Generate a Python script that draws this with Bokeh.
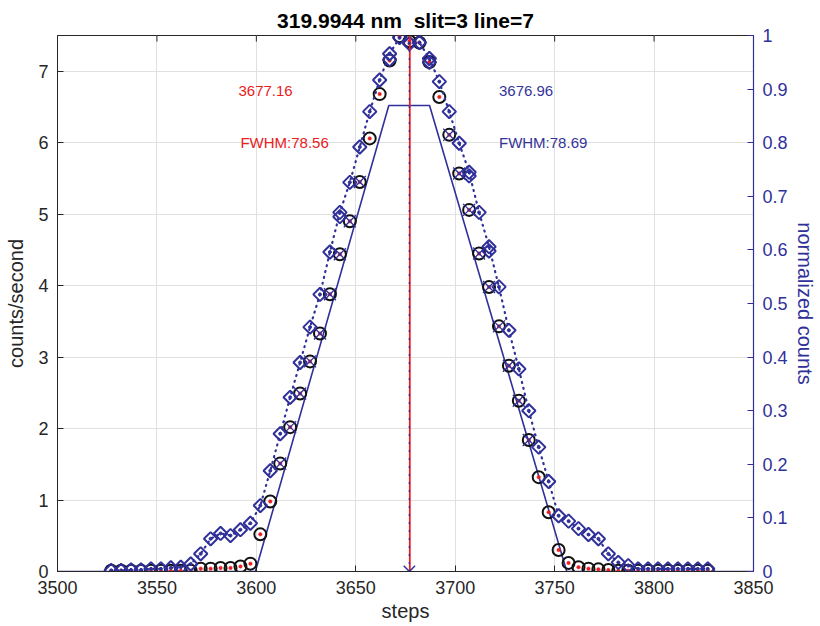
from bokeh.plotting import figure
from bokeh.models import Range1d, LinearAxis, FixedTicker, CustomJSTickFormatter, ColumnDataSource
from bokeh.core.properties import value
from bokeh.embed import file_html
from bokeh.resources import INLINE

# ---------------- data ----------------
steps = [3527, 3532, 3537, 3542, 3547, 3552, 3557, 3562, 3567, 3572,
         3577, 3582, 3587, 3592, 3597, 3602, 3607, 3612, 3617, 3622,
         3627, 3632, 3637, 3642, 3647, 3652, 3657, 3662, 3667, 3672,
         3677, 3682, 3687, 3692, 3697, 3702, 3707, 3712, 3717, 3722,
         3727, 3732, 3737, 3742, 3747, 3752, 3757, 3762, 3767, 3772,
         3777, 3782, 3787, 3792, 3797, 3802, 3807, 3812, 3817, 3822,
         3827]

counts = [0.01, 0.01, 0.01, 0.01, 0.01, 0.01, 0.01, 0.01, 0.01, 0.04,
          0.04, 0.05, 0.05, 0.07, 0.11, 0.52, 0.98, 1.51, 2.02, 2.49,
          2.94, 3.33, 3.88, 4.44, 4.90, 5.45, 6.06, 6.68, 7.15, 7.49,
          7.42, 7.40, 7.13, 6.64, 6.11, 5.57, 5.06, 4.45, 3.98, 3.43,
          2.88, 2.39, 1.84, 1.32, 0.83, 0.30, 0.12, 0.06, 0.04, 0.03,
          0.02, 0.01, 0.01, 0.01, 0.01, 0.01, 0.01, 0.01, 0.01, 0.01,
          0.01]

normalized = [0.002, 0.002, 0.003, 0.003, 0.005, 0.005, 0.007, 0.008, 0.014, 0.033,
              0.061, 0.071, 0.067, 0.078, 0.090, 0.123, 0.188, 0.257, 0.325, 0.390,
              0.456, 0.517, 0.596, 0.670, 0.726, 0.792, 0.858, 0.917, 0.966, 0.996,
              0.985, 0.987, 0.957, 0.914, 0.858, 0.799, 0.745, 0.670, 0.606, 0.531,
              0.450, 0.378, 0.300, 0.232, 0.168, 0.104, 0.094, 0.080, 0.069, 0.061,
              0.033, 0.017, 0.011, 0.005, 0.005, 0.005, 0.005, 0.005, 0.005, 0.005,
              0.005]

pair_steps = [3642, 3667, 3687, 3707, 3717]
pair_norm = [0.662, 0.955, 0.950, 0.738, 0.598]

fit_steps = [3612, 3617, 3622, 3627, 3632, 3637, 3642, 3647, 3652,
             3697, 3702, 3707, 3712, 3717, 3722, 3727, 3732, 3737]
fit_counts = [1.51, 2.02, 2.49, 2.94, 3.33, 3.88, 4.44, 4.90, 5.45,
              6.11, 5.57, 5.06, 4.45, 3.98, 3.43, 2.88, 2.39, 1.84]

trap_x = [3500, 3599.5, 3666.6, 3687.1, 3756.1, 3850]
trap_y = [0, 0, 6.52, 6.52, 0, 0]

center_red = 3677.16
center_blue = 3676.96

label_x = [3591, 3592, 3722, 3722]
label_y = [6.73, 6.0, 6.73, 6.0]
label_text = ["3677.16", "FWHM:78.56", "3676.96", "FWHM:78.69"]
label_color = ["#e8211d", "#e8211d", "#333399", "#333399"]

x_ticks = [3500, 3550, 3600, 3650, 3700, 3750, 3800, 3850]
y_ticks = [0, 1, 2, 3, 4, 5, 6, 7]
y2_ticks = [0, 0.1, 0.2, 0.3, 0.4, 0.5, 0.6, 0.7, 0.8, 0.9, 1.0]
y_top = 7.5

# ---------------- style ----------------
FONT = "Liberation Sans"
DARK = "#262626"
BLUE = "#30309a"
RED = "#ee1c1c"
GRID = "#e0e0e0"

p = figure(width=818, height=624, x_range=Range1d(3500, 3850), y_range=Range1d(0, y_top),
           output_backend="svg", toolbar_location=None,
           min_border_left=57, min_border_right=60, min_border_top=35, min_border_bottom=53,
           title="319.9944 nm\u00a0 slit=3 line=7")
p.extra_y_ranges = {"norm": Range1d(0, 1)}

p.title.align = "center"
p.title.text_font = FONT
p.title.text_font_size = "21px"
p.title.text_font_style = "bold"
p.title.text_color = "#000000"
p.title.standoff = 8

p.outline_line_color = DARK
p.background_fill_color = "white"
p.border_fill_color = "white"

p.xgrid.grid_line_color = GRID
p.ygrid.grid_line_color = GRID
p.xgrid.ticker = FixedTicker(ticks=x_ticks)
p.ygrid.ticker = FixedTicker(ticks=y_ticks)

for ax in [p.xaxis[0], p.yaxis[0]]:
    ax.major_tick_in = 6
    ax.major_tick_out = 0
    ax.minor_tick_line_color = None
    ax.axis_line_color = DARK
    ax.major_tick_line_color = DARK
    ax.major_label_text_color = DARK
    ax.major_label_text_font = FONT
    ax.major_label_text_font_size = "18px"
    ax.axis_label_text_font = FONT
    ax.axis_label_text_font_size = "20px"
    ax.axis_label_text_font_style = "normal"
    ax.axis_label_text_color = DARK

p.xaxis.ticker = FixedTicker(ticks=x_ticks)
p.yaxis.ticker = FixedTicker(ticks=y_ticks)
p.xaxis.axis_label = "steps"
p.yaxis.axis_label = "counts/second"
p.xaxis.major_label_standoff = 9
p.xaxis.axis_label_standoff = 3
p.yaxis.major_label_standoff = 9
p.yaxis.axis_label_standoff = 8

right = LinearAxis(y_range_name="norm", ticker=FixedTicker(ticks=y2_ticks),
                   formatter=CustomJSTickFormatter(code="return (Math.round(tick*10)/10).toString();"),
                   axis_label="normalized counts",
                   major_tick_in=6, major_tick_out=0, minor_tick_line_color=None,
                   axis_line_color=BLUE, axis_line_width=1.2, major_tick_line_color=BLUE,
                   major_label_text_color=BLUE, major_label_text_font=FONT,
                   major_label_text_font_size="18px", major_label_standoff=9,
                   axis_label_text_font=FONT, axis_label_text_font_size="20px",
                   axis_label_text_font_style="normal", axis_label_text_color=BLUE,
                   axis_label_standoff=3)
p.add_layout(right, "right")

# top-edge tick marks (box style)
p.segment(x0=x_ticks, y0=[y_top] * len(x_ticks), x1=x_ticks, y1=[y_top - 0.085] * len(x_ticks),
          line_color=DARK, line_width=1)

# ---------------- glyphs ----------------
src = ColumnDataSource(dict(step=steps, counts=counts, norm=normalized))
fit_src = ColumnDataSource(dict(step=fit_steps, counts=fit_counts))
pair_src = ColumnDataSource(dict(step=pair_steps, norm=pair_norm))

p.line(trap_x, trap_y, line_color=BLUE, line_width=1.6)

p.scatter("step", "counts", source=src, marker="circle", size=12, fill_color=None,
          line_color="#111111", line_width=2)
p.scatter("step", "counts", source=src, marker="circle", size=3.5, fill_color=RED,
          line_color=RED, line_width=0.5)
p.scatter("step", "counts", source=fit_src, marker="x", size=17, line_color=BLUE, line_width=1.3)

p.line("step", "norm", source=src, y_range_name="norm", line_color=BLUE, line_width=2.2,
       line_dash="1 5", line_cap="round")
p.scatter("step", "norm", source=src, y_range_name="norm", marker="square", angle=0.7854,
          size=9.5, fill_color=None, line_color=BLUE, line_width=2)
p.scatter("step", "norm", source=pair_src, y_range_name="norm", marker="square", angle=0.7854,
          size=9.5, fill_color=None, line_color=BLUE, line_width=2)
p.scatter("step", "norm", source=src, y_range_name="norm", marker="circle", size=3,
          fill_color=BLUE, line_color=BLUE)

p.segment(x0=[center_red], y0=[0], x1=[center_red], y1=[y_top], line_color=RED, line_width=1.8)
p.segment(x0=[center_blue], y0=[0], x1=[center_blue], y1=[y_top], line_color=BLUE, line_width=1.5,
          line_dash="1 7", line_cap="round")
p.scatter(x=[center_blue], y=[0], marker="x", size=16, line_color=BLUE, line_width=1.5)

lbl_src = ColumnDataSource(dict(x=label_x, y=label_y, text=label_text, color=label_color))
p.text("x", "y", text="text", source=lbl_src, text_color="color", text_font=value(FONT),
       text_font_size="15px", text_baseline="middle", text_align="left")

open("out.html", "w").write(file_html(p, INLINE))
